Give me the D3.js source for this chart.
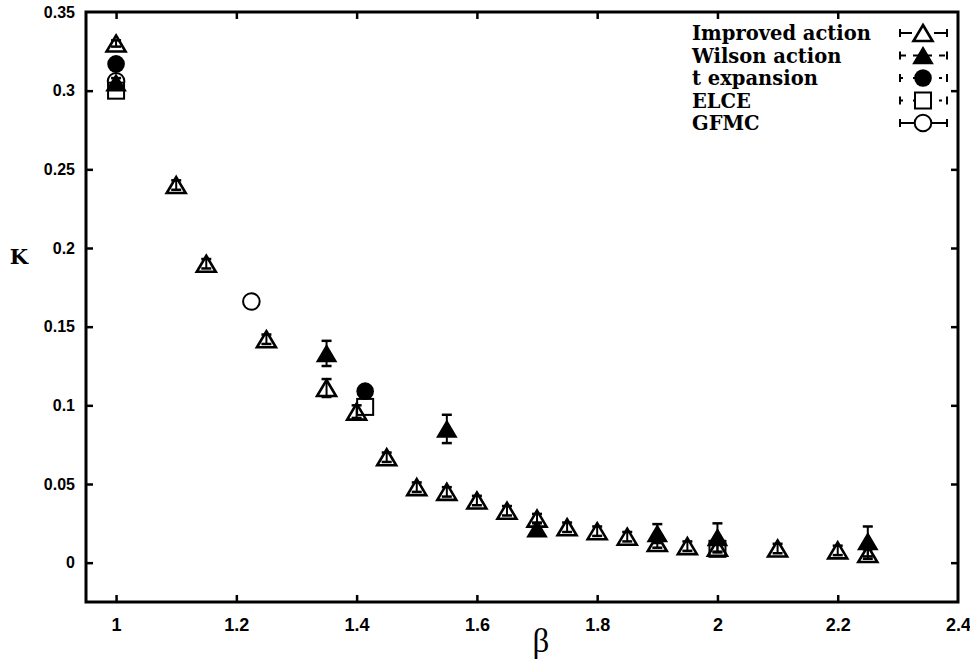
<!DOCTYPE html>
<html>
<head>
<meta charset="utf-8">
<script src="https://cdn.jsdelivr.net/npm/d3@7"></script>
<style>
  body { margin: 0; background: #fff; }
  svg { display: block; }
</style>
</head>
<body>
<svg id="chart" width="970" height="662"></svg>
<script>
// Improved action (open triangles with error bars)
const improvedBeta = [1.0, 1.1, 1.15, 1.25, 1.35, 1.40, 1.45, 1.5, 1.55, 1.6, 1.65, 1.7, 1.75, 1.8, 1.85, 1.9, 1.95, 2.0, 2.1, 2.2, 2.25];
const improvedK    = [0.330, 0.240, 0.190, 0.142, 0.111, 0.096, 0.067, 0.048, 0.045, 0.0395, 0.033, 0.028, 0.0225, 0.020, 0.0165, 0.0125, 0.0105, 0.0095, 0.009, 0.0078, 0.0055];
const improvedErr  = [0.002, 0.003, 0.003, 0.003, 0.0057, 0.004, 0.003, 0.003, 0.003, 0.003, 0.003, 0.003, 0.003, 0.003, 0.003, 0.003, 0.003, 0.003, 0.003, 0.003, 0.003];

// Wilson action (filled triangles with error bars)
const wilsonBeta = [1.0, 1.35, 1.55, 1.7, 1.9, 2.0, 2.25];
const wilsonK    = [0.305, 0.133, 0.085, 0.0215, 0.0185, 0.016, 0.0135];
const wilsonErr  = [0.003, 0.008, 0.009, 0.004, 0.006, 0.009, 0.0095];

// t expansion (filled circles)
const tExpBeta = [1.0, 1.4142];
const tExpK    = [0.317, 0.109];

// ELCE (open squares)
const elceBeta = [1.0, 1.4142, 2.0];
const elceK    = [0.300, 0.099, 0.0088];

// GFMC (open circles)
const gfmcBeta = [1.0, 1.225];
const gfmcK    = [0.306, 0.166];

// Axis ticks
const xTicks = [1, 1.2, 1.4, 1.6, 1.8, 2, 2.2, 2.4];
const yTicks = [0, 0.05, 0.1, 0.15, 0.2, 0.25, 0.3, 0.35];

const legendLabels = ["Improved action", "Wilson action", "t expansion", "ELCE", "GFMC"];

const svg = d3.select("#chart");
const L = 86, R = 958, T = 12, B = 602;

const x = d3.scaleLinear().domain([0.95, 2.4]).range([L, R]);
const y = d3.scaleLinear().domain([-0.025, 0.35]).range([B, T]);

const tickLen = 7;
const fmt = d => d3.format("")(+d.toFixed(2));

// Frame with inward ticks on all four sides
const gBottom = svg.append("g").attr("transform", `translate(0,${B})`)
  .call(d3.axisBottom(x).tickValues(xTicks).tickSize(-tickLen).tickPadding(16).tickFormat(fmt));
const gTop = svg.append("g").attr("transform", `translate(0,${T})`)
  .call(d3.axisTop(x).tickValues(xTicks).tickSize(-tickLen).tickFormat(""));
const gLeft = svg.append("g").attr("transform", `translate(${L},0)`)
  .call(d3.axisLeft(y).tickValues(yTicks).tickSize(-tickLen).tickPadding(11).tickFormat(fmt));
const gRight = svg.append("g").attr("transform", `translate(${R},0)`)
  .call(d3.axisRight(y).tickValues(yTicks).tickSize(-tickLen).tickFormat(""));

[gBottom, gTop, gLeft, gRight].forEach(g => {
  g.select(".domain").remove();
  g.selectAll(".tick line").attr("stroke", "#000").attr("stroke-width", 2.5);
});
gBottom.selectAll(".tick text")
  .attr("font-family", "'Liberation Sans Narrow', 'Liberation Sans', Arial, sans-serif")
  .attr("font-weight", "bold").attr("font-size", 18).attr("fill", "#000");
gLeft.selectAll(".tick text")
  .attr("font-family", "'Liberation Sans', Arial, sans-serif")
  .attr("font-weight", "bold").attr("font-size", 16).attr("fill", "#000");
// hide the ticks that sit on the frame corners
gTop.selectAll(".tick").filter(d => d === 2.4).remove();
gBottom.selectAll(".tick line").filter(d => d === 2.4).remove();
gLeft.selectAll(".tick line").filter(d => d === 0.35).remove();
gRight.selectAll(".tick").filter(d => d === 0.35).remove();

svg.append("rect")
  .attr("x", L).attr("y", T).attr("width", R - L).attr("height", B - T)
  .attr("fill", "none").attr("stroke", "#000").attr("stroke-width", 3);

// Axis titles
svg.append("text").attr("x", 19).attr("y", 264)
  .attr("text-anchor", "middle")
  .attr("font-family", "'DejaVu Serif', 'Liberation Serif', serif")
  .attr("font-weight", "bold").attr("font-size", 21).text("K");
svg.append("text").attr("x", 541).attr("y", 652)
  .attr("text-anchor", "middle")
  .attr("font-family", "'Liberation Serif', 'DejaVu Serif', serif")
  .attr("font-size", 33).text("β");

// Marker shapes
const triPath = "M0,-8L9.5,8L-9.5,8Z";
function drawMarker(g, type) {
  if (type === "openTri") {
    g.append("path").attr("d", triPath).attr("fill", "none").attr("stroke", "#000").attr("stroke-width", 2.6).attr("stroke-linejoin", "miter");
  } else if (type === "fillTri") {
    g.append("path").attr("d", triPath).attr("fill", "#000").attr("stroke", "#000").attr("stroke-width", 1.5);
  } else if (type === "fillCircle") {
    g.append("circle").attr("r", 8.8).attr("fill", "#000");
  } else if (type === "openSquare") {
    g.append("rect").attr("x", -8).attr("y", -8).attr("width", 16).attr("height", 16)
      .attr("fill", "none").attr("stroke", "#000").attr("stroke-width", 2);
  } else if (type === "openCircle") {
    g.append("circle").attr("r", 8.3).attr("fill", "none").attr("stroke", "#000").attr("stroke-width", 2);
  }
}

function drawSeries(betas, ks, errs, type) {
  const g = svg.append("g");
  betas.forEach((b, i) => {
    const px = x(b), py = y(ks[i]);
    if (errs) {
      const y1 = y(ks[i] + errs[i]), y2 = y(ks[i] - errs[i]);
      g.append("line").attr("x1", px).attr("x2", px).attr("y1", y1).attr("y2", y2)
        .attr("stroke", "#000").attr("stroke-width", 2);
      [y1, y2].forEach(yy => g.append("line")
        .attr("x1", px - 5).attr("x2", px + 5).attr("y1", yy).attr("y2", yy)
        .attr("stroke", "#000").attr("stroke-width", 2.5));
    }
    const m = g.append("g").attr("transform", `translate(${px},${py})`);
    drawMarker(m, type);
  });
}

drawSeries(improvedBeta, improvedK, improvedErr, "openTri");
drawSeries(wilsonBeta, wilsonK, wilsonErr, "fillTri");
drawSeries(tExpBeta, tExpK, null, "fillCircle");
drawSeries(elceBeta, elceK, null, "openSquare");
drawSeries(gfmcBeta, gfmcK, null, "openCircle");

// Legend
const legendTypes = ["openTri", "fillTri", "fillCircle", "openSquare", "openCircle"];
const legendDash = ["12,5", "6,7", "3,10", "3,10", null];
const lg = svg.append("g");
legendLabels.forEach((lab, i) => {
  const cy = 33 + i * 22.5;
  lg.append("text").attr("x", 692).attr("y", cy + 7)
    .attr("font-family", "'DejaVu Serif', 'Liberation Serif', serif")
    .attr("font-weight", "bold").attr("font-size", 19.5).text(lab);
  const x0 = 900, x1 = 947;
  lg.append("line").attr("x1", x0).attr("x2", x1).attr("y1", cy).attr("y2", cy)
    .attr("stroke", "#000").attr("stroke-width", 2)
    .attr("stroke-dasharray", legendDash[i]);
  [x0, x1].forEach(xx => lg.append("line").attr("x1", xx).attr("x2", xx)
    .attr("y1", cy - 4).attr("y2", cy + 4).attr("stroke", "#000").attr("stroke-width", 2));
  const m = lg.append("g").attr("transform", `translate(923,${cy})`);
  if (legendTypes[i] !== "fillTri" && legendTypes[i] !== "fillCircle") {
    // blank the sample line behind open markers
    m.append("rect").attr("x", -9).attr("y", -9).attr("width", 18).attr("height", 18).attr("fill", "#fff");
  }
  drawMarker(m, legendTypes[i]);
});
</script>
</body>
</html>
